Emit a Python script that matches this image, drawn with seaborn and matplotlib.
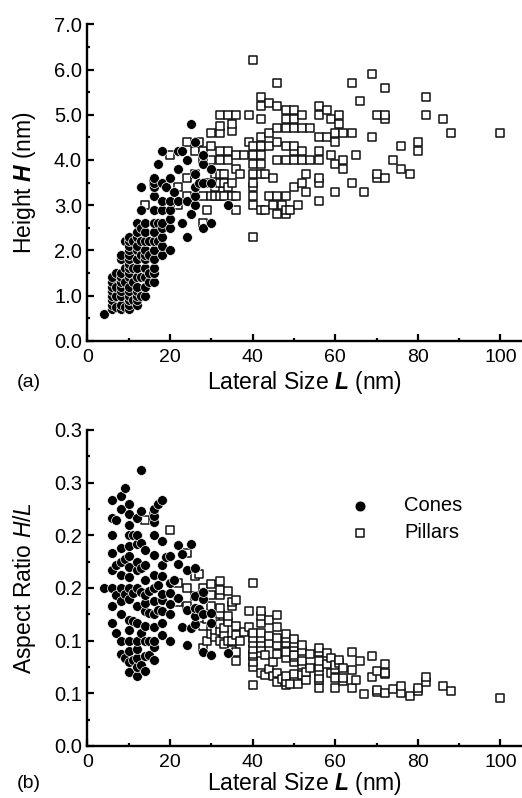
import pandas as pd
import matplotlib
matplotlib.use('Agg')
import matplotlib.pyplot as plt
import seaborn as sns
from matplotlib.ticker import MultipleLocator, FormatStrFormatter

# lateral size L (nm) and height H (nm)
cone_L = [4,
          6, 6, 6, 6, 6, 6, 6, 6,
          7, 7, 7, 7,
          8, 8, 8, 8, 8, 8, 8, 8, 8, 8,
          9, 9, 9, 9,
          10, 10, 10, 10, 10, 10, 10, 10, 10, 10, 10, 10, 10, 10, 10, 10,
          11, 11, 11, 11,
          12, 12, 12, 12, 12, 12, 12, 12, 12, 12, 12, 12, 12,
          13, 13, 13, 13, 13, 13, 13,
          14, 14, 14, 14, 14, 14, 14, 14, 14, 14,
          15, 15, 15, 15,
          16, 16, 16, 16, 16, 16, 16, 16, 16, 16, 16, 16, 16,
          17, 17, 17,
          18, 18, 18, 18, 18, 18, 18, 18, 18,
          19,
          20, 20, 20, 20, 20, 20,
          21,
          22, 22, 22,
          23, 23,
          24, 24, 24,
          25, 25,
          26, 26, 26, 26, 26,
          27,
          28, 28, 28, 28,
          30, 30, 30,
          34]
cone_H = [0.6,
          0.7, 0.8, 0.9, 1.0, 1.1, 1.2, 1.3, 1.4,
          0.75, 1.0, 1.2, 1.5,
          0.7, 0.8, 1.0, 1.1, 1.2, 1.3, 1.4, 1.5, 1.8, 1.9,
          0.75, 1.3, 1.6, 2.2,
          0.7, 0.8, 0.9, 1.0, 1.1, 1.2, 1.4, 1.5, 1.6, 1.7, 1.8, 1.9, 2.0, 2.1, 2.2, 2.3,
          0.9, 1.3, 1.6, 2.2,
          0.8, 0.9, 1.0, 1.1, 1.2, 1.4, 1.6, 1.8, 2.0, 2.1, 2.3, 2.4, 2.6,
          1.0, 1.4, 1.9, 2.2, 2.5, 2.9, 3.4,
          1.0, 1.2, 1.4, 1.6, 1.8, 1.9, 2.0, 2.2, 2.4, 2.6,
          1.3, 1.5, 1.9, 2.2,
          1.3, 1.5, 1.6, 1.8, 2.0, 2.2, 2.4, 2.6, 2.9, 3.2, 3.4, 3.5, 3.6,
          2.2, 2.6, 3.9,
          1.9, 2.1, 2.3, 2.5, 2.6, 2.9, 3.1, 3.5, 4.2,
          3.4,
          2.0, 2.5, 2.7, 2.9, 3.1, 3.6,
          3.3,
          3.1, 3.8, 4.2,
          2.6, 4.2,
          2.3, 3.1, 4.0,
          2.8, 4.8,
          3.0, 3.2, 3.4, 3.7, 4.4,
          3.5,
          2.5, 3.5, 3.9, 4.1,
          2.6, 3.5, 3.8,
          3.0]

pillar_L = [14, 16, 20,
            22, 22,
            24, 24, 24,
            26, 26,
            27,
            28, 28, 28, 28,
            29, 29,
            30, 30, 30, 30,
            31, 31, 31,
            32, 32, 32, 32, 32, 32, 32, 32,
            33, 33, 33,
            34, 34, 34, 34,
            35, 35, 35, 35,
            36, 36, 36, 36, 36,
            37, 38,
            39, 39,
            40, 40, 40, 40, 40, 40, 40, 40, 40, 40,
            42, 42, 42, 42, 42, 42, 42, 42, 42,
            43, 43,
            44, 44, 44, 44,
            45, 45,
            46, 46, 46, 46, 46, 46, 46,
            47,
            48, 48, 48, 48, 48, 48, 48, 48,
            49,
            50, 50, 50, 50, 50, 50, 50,
            51,
            52, 52, 52, 52, 52,
            53, 53,
            54, 54,
            56, 56, 56, 56, 56, 56, 56, 56,
            58, 58,
            59, 59,
            60, 60, 60, 60,
            61, 61,
            62, 62, 62,
            64, 64, 64,
            65, 66, 67,
            69, 69,
            70, 70, 70,
            72, 72, 72, 72,
            74,
            76, 76,
            78,
            80, 80,
            82, 82,
            86, 88, 100]
pillar_H = [3.0, 3.5, 4.1,
            3.0, 3.4,
            3.2, 3.6, 4.4,
            3.7, 4.2,
            4.4,
            2.6, 3.2, 4.0, 4.2,
            2.9, 3.5,
            3.2, 4.0, 4.3, 4.6,
            3.2, 3.4, 3.7,
            3.2, 3.5, 3.7, 4.0, 4.2, 4.6, 4.75, 5.0,
            3.2, 3.5, 3.7,
            3.4, 4.0, 4.2, 5.0,
            3.2, 3.5, 4.65, 4.8,
            2.9, 3.2, 3.8, 4.1, 5.0,
            3.7, 4.1,
            4.4, 5.0,
            2.3, 3.0, 3.2, 3.4, 3.5, 3.7, 3.9, 4.1, 4.3, 6.2,
            2.9, 3.7, 3.9, 4.1, 4.3, 4.5, 4.9, 5.2, 5.4,
            2.9, 3.7,
            3.2, 4.3, 4.6, 5.25,
            3.0, 3.6,
            2.8, 3.2, 4.0, 4.4, 4.7, 5.2, 5.7,
            3.0,
            2.8, 2.9, 3.2, 4.0, 4.3, 4.7, 4.9, 5.1,
            2.9,
            3.4, 4.0, 4.2, 4.3, 4.7, 4.9, 5.1,
            3.0,
            3.5, 4.0, 4.2, 4.7, 5.0,
            3.3, 3.7,
            4.0, 4.7,
            3.1, 3.5, 3.6, 4.0, 4.2, 4.5, 5.0, 5.2,
            4.5, 5.1,
            4.1, 4.9,
            3.3, 3.9, 4.4, 4.6,
            4.8, 5.0,
            3.8, 4.0, 4.6,
            3.5, 4.6, 5.7,
            4.1, 5.3, 3.3,
            4.5, 5.9,
            3.6, 3.7, 5.0,
            3.6, 4.9, 5.0, 5.6,
            4.0,
            3.8, 4.3,
            3.7,
            4.2, 4.4,
            5.0, 5.4,
            4.9, 4.6, 4.6]

ratio_ticks = [0.0, 0.05, 0.10, 0.15, 0.20, 0.25, 0.30]
ratio_tick_labels = ['0.0', '0.1', '0.1', '0.2', '0.2', '0.3', '0.3']

cones = pd.DataFrame({'L': cone_L, 'H': cone_H})
pillars = pd.DataFrame({'L': pillar_L, 'H': pillar_H})
cones['ratio'] = cones['H'] / cones['L']
pillars['ratio'] = pillars['H'] / pillars['L']

sns.set_style('ticks')
plt.rcParams['font.family'] = ['Liberation Sans', 'DejaVu Sans']
plt.rcParams['mathtext.fontset'] = 'custom'
plt.rcParams['mathtext.it'] = 'Liberation Sans:italic'
plt.rcParams['mathtext.bf'] = 'Liberation Sans:bold'
plt.rcParams['mathtext.bfit'] = 'Liberation Sans:italic:bold'
plt.rcParams['mathtext.rm'] = 'Liberation Sans'
for key in ['axes.edgecolor', 'xtick.color', 'ytick.color', 'text.color',
            'axes.labelcolor', 'xtick.labelcolor', 'ytick.labelcolor']:
    plt.rcParams[key] = 'black'

fig = plt.figure(figsize=(5.22, 7.98), dpi=100)
ax_a = fig.add_axes([0.1676, 0.573, 0.8305, 0.3965])
ax_b = fig.add_axes([0.1676, 0.0652, 0.8305, 0.396])


def draw(ax, ycol):
    sns.scatterplot(data=pillars, x='L', y=ycol, ax=ax, marker='s', s=30,
                    facecolor='white', edgecolor='#111111', linewidth=1.1,
                    label='Pillars', zorder=2)
    sns.scatterplot(data=cones, x='L', y=ycol, ax=ax, marker='o', s=50,
                    color='black', edgecolor='white', linewidth=0.5,
                    label='Cones', zorder=3)
    ax.set_xlim(0, 105)
    ax.xaxis.set_major_locator(MultipleLocator(20))
    ax.xaxis.set_minor_locator(MultipleLocator(10))
    for side in ['top', 'right']:
        ax.spines[side].set_visible(False)
    for side in ['left', 'bottom']:
        ax.spines[side].set_linewidth(1.7)
    ax.tick_params(which='both', direction='in', width=1.6)
    ax.tick_params(which='major', length=5)
    ax.tick_params(which='minor', length=2.5)
    ax.tick_params(axis='x', pad=6, labelsize=14)
    ax.tick_params(axis='y', pad=4, labelsize=14.5)
    ax.set_xlabel(r'Lateral Size $\mathbfit{L}$ (nm)', fontsize=16.5)


draw(ax_a, 'H')
ax_a.xaxis.set_label_coords(0.5, -0.09)
ax_a.set_ylim(0, 7)
ax_a.yaxis.set_major_locator(MultipleLocator(1))
ax_a.yaxis.set_minor_locator(MultipleLocator(0.5))
ax_a.yaxis.set_major_formatter(FormatStrFormatter('%.1f'))
ax_a.set_ylabel(r'Height $\mathbfit{H}$ (nm)', fontsize=16.5)
ax_a.yaxis.set_label_coords(-0.115, 0.5)
ax_a.get_legend().remove()

draw(ax_b, 'ratio')
ax_b.xaxis.set_label_coords(0.5, -0.075)
ax_b.set_ylim(0, 0.30)
ax_b.set_yticks(ratio_ticks)
ax_b.set_yticklabels(ratio_tick_labels)
ax_b.yaxis.set_minor_locator(MultipleLocator(0.025))
ax_b.set_ylabel(r'Aspect Ratio $\mathit{H/L}$', fontsize=16.5)
ax_b.yaxis.set_label_coords(-0.115, 0.5)

handles, labels = ax_b.get_legend_handles_labels()
order = [labels.index('Cones'), labels.index('Pillars')]
ax_b.legend([handles[i] for i in order], [labels[i] for i in order],
            loc='upper left', bbox_to_anchor=(0.605, 0.79), frameon=False,
            fontsize=14.5, handlelength=1.0, handletextpad=1.7,
            borderpad=0, borderaxespad=0, labelspacing=0.4, markerscale=1.1)

fig.text(0.033, 1 - 374 / 798, '(a)', fontsize=14, va='top')
fig.text(0.033, 1 - 775 / 798, '(b)', fontsize=14, va='top')

fig.savefig('out.png', dpi=100)
